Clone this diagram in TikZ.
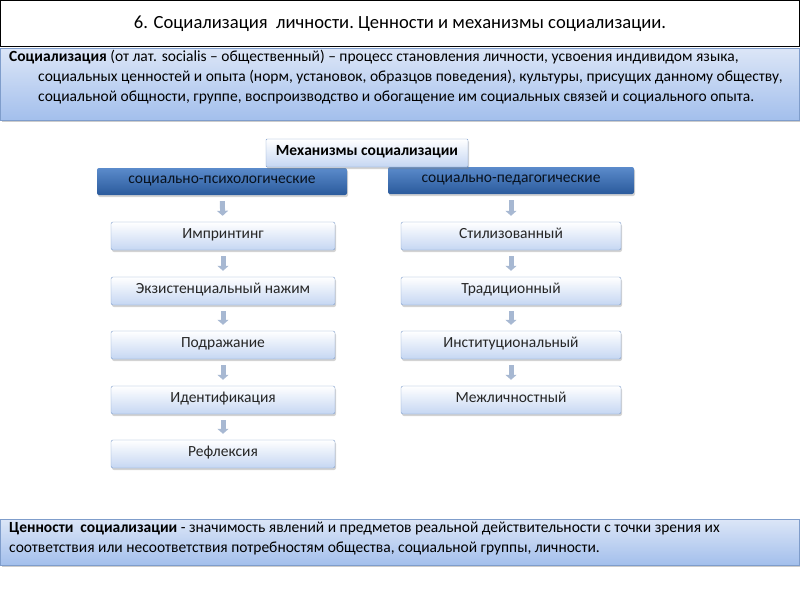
\documentclass[tikz,border=0pt]{standalone}
\usepackage{fontspec}
\setmainfont{Carlito}
\usepackage{xcolor}
\usepackage{tikz}
\usetikzlibrary{arrows.meta,positioning,shadows,calc}

\definecolor{paleblue}{HTML}{DCE6F7}
\definecolor{midblue}{HTML}{A3BFEC}
\definecolor{darkhead}{HTML}{2A5A9C}
\definecolor{lighthead}{HTML}{5B8BCB}
\definecolor{edgeblue}{HTML}{7F9DCB}
\definecolor{flowgrey}{HTML}{A7B8D2}

\tikzset{
  infobox/.style={draw=edgeblue, top color=paleblue, bottom color=midblue, drop shadow={shadow xshift=1pt, shadow yshift=-2pt, opacity=0.4}},
  mechbox/.style={draw=edgeblue, top color=white, bottom color=paleblue!60!midblue, rounded corners=2pt, minimum width=224pt, minimum height=28pt, text height=1.6ex, text depth=.4ex, font=\fontsize{15.5}{18}\selectfont, text=black!85, drop shadow={shadow xshift=1pt, shadow yshift=-2pt, opacity=0.35}},
  headbox/.style={top color=lighthead, bottom color=darkhead, rounded corners=2pt, minimum height=27pt, font=\fontsize{15.5}{18}\selectfont, text=black!80!darkhead, drop shadow={shadow xshift=1pt, shadow yshift=-2pt, opacity=0.35}},
  flow/.style={draw=flowgrey, line width=5pt, -{Triangle[length=5pt,width=11pt]}, shorten <=6pt, shorten >=6pt}
}

\begin{document}
\begin{tikzpicture}[x=1pt, y=-1pt]
    \useasboundingbox (0,0) rectangle (800,600);

    % Title
    \node[draw=black, thick, fill=white, minimum width=799pt, minimum height=46pt, font=\fontsize{18.6}{21}\selectfont] (title) at (400,23.5) {6. Социализация\ \ личности.\ Ценности\ и механизмы\ социализации.};

    % Definition
    \node[infobox, minimum width=799pt, minimum height=72pt] (defbox) at (400,84) {};
    \node[anchor=north west, align=left, font=\fontsize{15.5}{20}\selectfont, inner sep=0pt] (deftext) at (9,50)
      {\textbf{Социализация} (от лат. socialis – общественный) – процесс становления личности, усвоения индивидом языка,\\
      \hspace*{29pt}социальных ценностей и опыта (норм, установок, образцов поведения), культуры, присущих данному обществу,\\
      \hspace*{29pt}социальной общности, группе, воспроизводство и обогащение им социальных связей и социального опыта.};

    % Mechanisms
    \node[headbox, minimum width=250pt] (psy) at (222,181.5) {социально-психологические};
    \node[headbox, minimum width=246pt] (ped) at (511,180.5) {социально-педагогические};
    \node[mechbox, rounded corners=1pt, minimum width=202pt, minimum height=28pt, font=\fontsize{15.5}{18}\selectfont\bfseries, text=black] (mech) at (367,153) {Механизмы социализации};

    % Left column
    \node[mechbox] (imp) at (223,236) {Импринтинг};
    \node[mechbox] (exi) at (223,291) {Экзистенциальный нажим};
    \node[mechbox] (imi) at (223,345) {Подражание};
    \node[mechbox] (ide) at (223,400) {Идентификация};
    \node[mechbox] (ref) at (223,454) {Рефлексия};

    % Right column
    \node[mechbox, minimum width=220pt] (sty) at (511,236) {Стилизованный};
    \node[mechbox, minimum width=220pt] (tra) at (511,291) {Традиционный};
    \node[mechbox, minimum width=220pt] (ins) at (511,345) {Институциональный};
    \node[mechbox, minimum width=220pt] (int) at (511,400) {Межличностный};

    % Arrows
    \foreach \a/\b in {psy/imp, imp/exi, exi/imi, imi/ide, ide/ref, ped/sty, sty/tra, tra/ins, ins/int}
        \draw[flow] (\a) -- (\b);

    % Values
    \node[infobox, minimum width=799pt, minimum height=46pt] (valbox) at (400,542) {};
    \node[anchor=north west, align=left, font=\fontsize{15.5}{20}\selectfont, inner sep=0pt] (valtext) at (9,522)
      {\textbf{Ценности\ \ социализации} - значимость явлений и предметов реальной действительности с точки зрения их\\
      соответствия или несоответствия потребностям общества, социальной группы, личности.};
\end{tikzpicture}
\end{document}
